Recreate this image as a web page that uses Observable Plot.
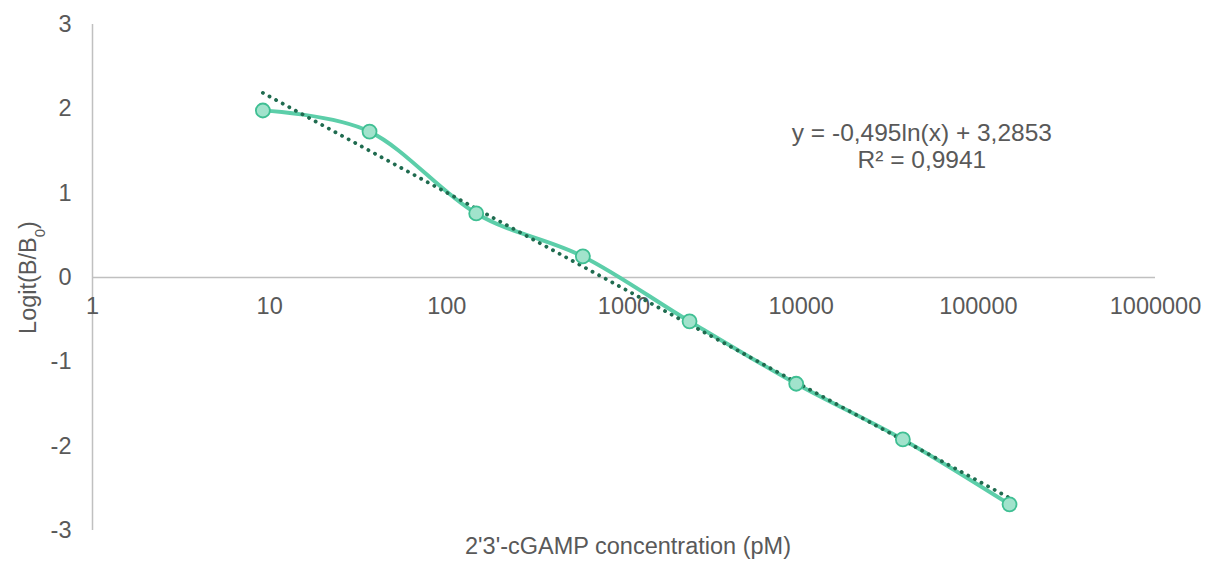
<!DOCTYPE html>
<html>
<head>
<meta charset="utf-8">
<script src="https://cdn.jsdelivr.net/npm/d3@7"></script>
<script src="https://cdn.jsdelivr.net/npm/@observablehq/plot@0.6"></script>
<style>
  html, body { margin: 0; padding: 0; background: #fff; }
  #chart svg { display: block; }
</style>
</head>
<body>
<div id="chart"></div>
<script>
// Data (concentrations in pM, Logit(B/B0) values)
const concentrations = [9.155, 36.62, 146.5, 585.9, 2344, 9375, 37500, 150000];
const logitValues = [1.98, 1.73, 0.76, 0.25, -0.52, -1.26, -1.92, -2.69];

// Trend line: y = -0.495 ln(x) + 3.2853
const trendSlope = -0.495;
const trendIntercept = 3.2853;
const trendLabel = ["y = -0,495ln(x) + 3,2853", "R² = 0,9941"];
const trendLabelAt = {x: 48000, y: [1.71, 1.39]};

const xTicks = [1, 10, 100, 1000, 10000, 100000, 1000000];
const yTicks = [-3, -2, -1, 0, 1, 2, 3];
const xTitle = "2'3'-cGAMP concentration (pM)";
const yTitle = "Logit(B/B0)";

const points = concentrations.map((c, i) => ({x: c, y: logitValues[i]}));
const trendEnds = [concentrations[0], concentrations[concentrations.length - 1]]
  .map(x => ({x, y: trendSlope * Math.log(x) + trendIntercept}));

const textColor = "#595959";
const axisColor = "#c0c0c0";
const font = "'Liberation Sans', Arial, Helvetica, sans-serif";
const fs = 23.5;

const chart = Plot.plot({
  width: 1212,
  height: 568,
  marginLeft: 92,
  marginRight: 57,
  marginTop: 24,
  marginBottom: 38,
  style: {fontFamily: font, fontSize: fs + "px", color: textColor, background: "#fff", overflow: "visible"},
  x: {type: "log", domain: [1, 1000000], axis: null},
  y: {domain: [-3, 3], axis: null},
  marks: [
    Plot.ruleX([1], {y1: -3, y2: 3, stroke: axisColor, strokeWidth: 1.5}),
    Plot.ruleY([0], {x1: 1, x2: 1000000, stroke: axisColor, strokeWidth: 1.5}),
    Plot.axisY({ticks: yTicks, tickSize: 0, tickPadding: 21, fontSize: fs, fill: textColor, label: null, tickFormat: d => String(d).replace("−", "-")}),
    Plot.text(xTicks, {x: d => d, y: 0, dy: 29, text: d => String(d), fontSize: fs, fill: textColor}),
    Plot.line(points, {x: "x", y: "y", curve: "cardinal", stroke: "#5ccea9", strokeWidth: 4}),
    Plot.line(trendEnds, {x: "x", y: "y", stroke: "#1f6b4f", strokeWidth: 3.8, strokeDasharray: "0.1 7.4", strokeLinecap: "round"}),
    Plot.dot(points, {x: "x", y: "y", r: 7, fill: "#a1e3cc", stroke: "#3fbf93", strokeWidth: 1.8}),
    Plot.text(trendLabel, {x: trendLabelAt.x, y: (d, i) => trendLabelAt.y[i], text: d => d, fontSize: 24.5, fill: textColor}),
    Plot.text([xTitle], {frameAnchor: "bottom", dy: 23, dx: 4, fontSize: fs, fill: textColor}),
    Plot.text([yTitle], {frameAnchor: "left", textAnchor: "middle", dx: -64, rotate: -90, fontSize: fs, fill: textColor})
  ]
});

document.getElementById("chart").appendChild(chart);

// Render the subscript 0 in the y title
d3.select(chart).selectAll("text").filter(function() { return this.textContent === yTitle; })
  .each(function() {
    const t = d3.select(this);
    t.text(null);
    t.append("tspan").text("Logit(B/B");
    t.append("tspan").attr("baseline-shift", "sub").attr("font-size", "15px").text("0");
    t.append("tspan").attr("baseline-shift", "0").text(")");
  });
</script>
</body>
</html>
